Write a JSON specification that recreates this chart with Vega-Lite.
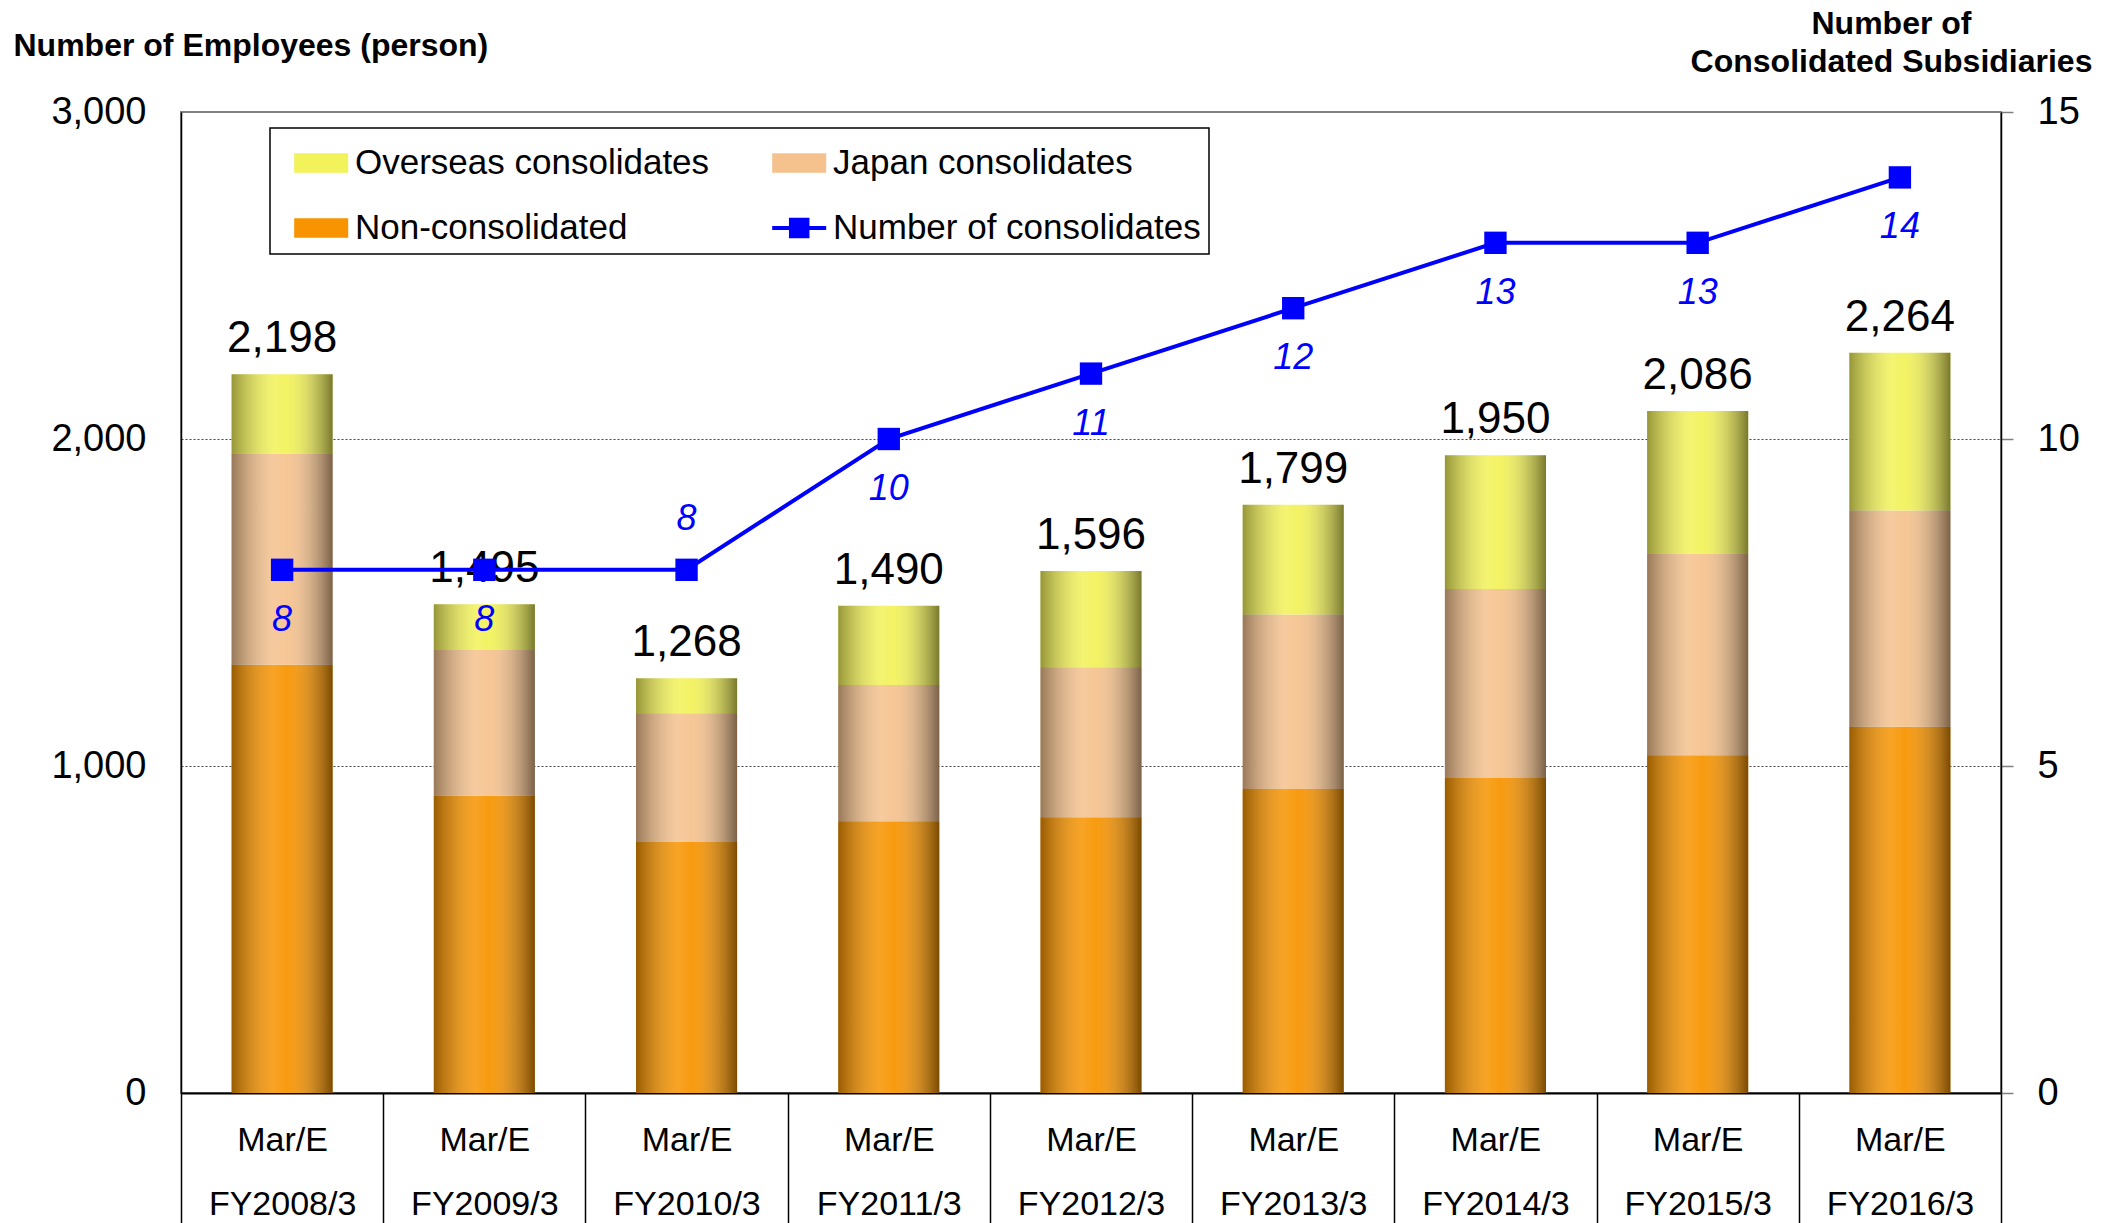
{
  "$schema": "https://vega.github.io/schema/vega-lite/v6.json",
  "width": 1820,
  "height": 981,
  "autosize": "none",
  "padding": {"left": 181, "top": 112, "right": 117, "bottom": 130},
  "background": "white",
  "config": {
    "view": {"stroke": "#808080", "strokeWidth": 2},
    "font": "Liberation Sans",
    "text": {"font": "Liberation Sans"}
  },
  "datasets": {
    "emp": [
      {"year": "FY2008/3", "series": "Non-consolidated", "k": 0, "value": 1310},
      {"year": "FY2008/3", "series": "Japan consolidates", "k": 1, "value": 645},
      {"year": "FY2008/3", "series": "Overseas consolidates", "k": 2, "value": 243},
      {"year": "FY2009/3", "series": "Non-consolidated", "k": 0, "value": 909},
      {"year": "FY2009/3", "series": "Japan consolidates", "k": 1, "value": 446},
      {"year": "FY2009/3", "series": "Overseas consolidates", "k": 2, "value": 140},
      {"year": "FY2010/3", "series": "Non-consolidated", "k": 0, "value": 769},
      {"year": "FY2010/3", "series": "Japan consolidates", "k": 1, "value": 392},
      {"year": "FY2010/3", "series": "Overseas consolidates", "k": 2, "value": 107},
      {"year": "FY2011/3", "series": "Non-consolidated", "k": 0, "value": 831},
      {"year": "FY2011/3", "series": "Japan consolidates", "k": 1, "value": 417},
      {"year": "FY2011/3", "series": "Overseas consolidates", "k": 2, "value": 242},
      {"year": "FY2012/3", "series": "Non-consolidated", "k": 0, "value": 843},
      {"year": "FY2012/3", "series": "Japan consolidates", "k": 1, "value": 459},
      {"year": "FY2012/3", "series": "Overseas consolidates", "k": 2, "value": 294},
      {"year": "FY2013/3", "series": "Non-consolidated", "k": 0, "value": 930},
      {"year": "FY2013/3", "series": "Japan consolidates", "k": 1, "value": 533},
      {"year": "FY2013/3", "series": "Overseas consolidates", "k": 2, "value": 336},
      {"year": "FY2014/3", "series": "Non-consolidated", "k": 0, "value": 963},
      {"year": "FY2014/3", "series": "Japan consolidates", "k": 1, "value": 578},
      {"year": "FY2014/3", "series": "Overseas consolidates", "k": 2, "value": 409},
      {"year": "FY2015/3", "series": "Non-consolidated", "k": 0, "value": 1033},
      {"year": "FY2015/3", "series": "Japan consolidates", "k": 1, "value": 616},
      {"year": "FY2015/3", "series": "Overseas consolidates", "k": 2, "value": 437},
      {"year": "FY2016/3", "series": "Non-consolidated", "k": 0, "value": 1120},
      {"year": "FY2016/3", "series": "Japan consolidates", "k": 1, "value": 661},
      {"year": "FY2016/3", "series": "Overseas consolidates", "k": 2, "value": 483}
    ],
    "tot": [
      {"year": "FY2008/3", "total": 2198, "subs": 8},
      {"year": "FY2009/3", "total": 1495, "subs": 8},
      {"year": "FY2010/3", "total": 1268, "subs": 8},
      {"year": "FY2011/3", "total": 1490, "subs": 10},
      {"year": "FY2012/3", "total": 1596, "subs": 11},
      {"year": "FY2013/3", "total": 1799, "subs": 12},
      {"year": "FY2014/3", "total": 1950, "subs": 13},
      {"year": "FY2015/3", "total": 2086, "subs": 13},
      {"year": "FY2016/3", "total": 2264, "subs": 14}
    ]
  },
  "layer": [
    {
      "layer": [
        {
          "data": {"name": "emp"},
          "mark": {"type": "bar", "width": {"band": 0.5}},
          "encoding": {
            "x": {
              "field": "year", "type": "nominal", "sort": null,
              "scale": {"paddingInner": 0, "paddingOuter": 0},
              "axis": {
                "title": null, "domainColor": "black", "domainWidth": 2,
                "tickBand": "extent", "tickSize": 130, "tickColor": "black", "tickWidth": 1.5,
                "labelExpr": "datum.value ? ['Mar/E', datum.value] : ''", "labelFontSize": 34, "labelColor": "black",
                "labelLineHeight": 64, "labelPadding": -100, "labelAngle": 0, "labelBaseline": "top"
              }
            },
            "y": {
              "field": "value", "type": "quantitative", "stack": "zero",
              "title": "Number of Employees (person)",
              "scale": {"domain": [0, 3000], "nice": false},
              "axis": {
                "orient": "left", "values": [0, 1000, 2000, 3000], "format": ",d",
                "labelFontSize": 38, "labelColor": "black", "labelPadding": 35, "ticks": false,
                "domainColor": "black", "domainWidth": 1.5,
                "grid": true, "gridColor": "#444444", "gridDash": [2, 2], "gridWidth": 1.2,
                "gridOpacity": {"condition": {"test": "datum.value === 0 || datum.value === 3000", "value": 0}, "value": 1},
                "titleAngle": 0, "titleAlign": "left", "titleBaseline": "middle",
                "titleX": -168, "titleY": -67, "titleFontSize": 32, "titleFontWeight": "bold", "titleColor": "black"
              }
            },
            "color": {
              "field": "series", "type": "nominal",
              "scale": {
                "domain": ["Overseas consolidates", "Non-consolidated", "Japan consolidates", "Number of consolidates"],
                "range": ["#f2f25a", "#f79400", "#f5c28e", "#0000ff"]
              },
              "legend": {
                "orient": "none", "legendX": 89, "legendY": 16, "columns": 2, "title": null,
                "labelFontSize": 35, "labelColor": "black", "labelLimit": 600,
                "symbolSize": 2916, "labelOffset": 23, "columnPadding": 46, "rowPadding": 20,
                "padding": 8, "strokeColor": "black", "fillColor": "white",
                "encode": {
                  "legend": {"update": {"strokeWidth": {"value": 1.5}}},
                  "symbols": {
                    "update": {
                      "shape": {"signal": "datum.value === 'Number of consolidates' ? 'M-0.4,-0.075H1.6V0.075H-0.4Z M0.22,-0.38H0.98V0.38H0.22Z' : 'M-0.4,-0.36H1.6V0.36H-0.4Z'"},
                      "fill": {"signal": "datum.value === 'Overseas consolidates' ? {gradient: 'linear', stops: [{offset: 0, color: '#9a9a2a'}, {offset: 0.5, color: '#ffff66'}, {offset: 1, color: '#7a7a14'}]} : datum.value === 'Japan consolidates' ? {gradient: 'linear', stops: [{offset: 0, color: '#a8845c'}, {offset: 0.5, color: '#ffcc99'}, {offset: 1, color: '#8a6a48'}]} : datum.value === 'Non-consolidated' ? {gradient: 'linear', stops: [{offset: 0, color: '#a86200'}, {offset: 0.5, color: '#ff9900'}, {offset: 1, color: '#8a5000'}]} : '#0000ff'"},
                      "stroke": {"value": "transparent"},
                      "strokeWidth": {"value": 0},
                      "opacity": {"value": 1}
                    }
                  }
                }
              }
            },
            "order": {"field": "k", "type": "quantitative"}
          }
        },
        {
          "data": {"name": "tot"},
          "mark": {
            "type": "bar",
            "width": {"band": 0.5},
            "fill": {
              "gradient": "linear", "x1": 0, "x2": 1, "y1": 0, "y2": 0,
              "stops": [
                {"offset": 0, "color": "rgba(0,0,0,0.38)"},
                {"offset": 0.42, "color": "rgba(255,255,255,0.14)"},
                {"offset": 0.55, "color": "rgba(255,255,255,0.06)"},
                {"offset": 1, "color": "rgba(0,0,0,0.5)"}
              ]
            }
          },
          "encoding": {
            "x": {"field": "year", "type": "nominal", "sort": null},
            "y": {"field": "total", "type": "quantitative", "title": "Number of Employees (person)"}
          }
        },
        {
          "data": {"name": "tot"},
          "mark": {"type": "text", "baseline": "alphabetic", "align": "center", "dy": -22, "fontSize": 44, "color": "black"},
          "encoding": {
            "x": {"field": "year", "type": "nominal", "sort": null},
            "y": {"field": "total", "type": "quantitative", "title": "Number of Employees (person)"},
            "text": {"field": "total", "type": "quantitative", "format": ","}
          }
        }
      ]
    },
    {
      "layer": [
        {
          "data": {"name": "tot"},
          "mark": {"type": "line", "strokeWidth": 4, "point": {"shape": "square", "filled": true, "size": 500}},
          "encoding": {
            "x": {"field": "year", "type": "nominal", "sort": null},
            "y": {
              "field": "subs", "type": "quantitative",
              "title": ["Number of", "Consolidated Subsidiaries"],
              "scale": {"domain": [0, 15], "nice": false},
              "axis": {
                "orient": "right", "values": [0, 5, 10, 15], "format": "d",
                "labelFontSize": 38, "labelColor": "black", "labelPadding": 24,
                "tickSize": 12, "tickColor": "#808080", "tickWidth": 1.5,
                "domainColor": "black", "domainWidth": 1.5, "grid": false,
                "titleAngle": 0, "titleAlign": "center", "titleBaseline": "middle",
                "titleX": -110, "titleY": -89, "titleFontSize": 32, "titleFontWeight": "bold",
                "titleColor": "black", "titleLineHeight": 38
              }
            },
            "color": {"datum": "Number of consolidates"}
          }
        },
        {
          "data": {"name": "tot"},
          "transform": [{"filter": "datum.year !== 'FY2010/3'"}],
          "mark": {"type": "text", "baseline": "middle", "align": "center", "dy": 50, "fontSize": 36, "fontStyle": "italic", "color": "#0000ff"},
          "encoding": {
            "x": {"field": "year", "type": "nominal", "sort": null},
            "y": {"field": "subs", "type": "quantitative", "title": ["Number of", "Consolidated Subsidiaries"]},
            "text": {"field": "subs", "type": "quantitative"}
          }
        },
        {
          "data": {"name": "tot"},
          "transform": [{"filter": "datum.year === 'FY2010/3'"}],
          "mark": {"type": "text", "baseline": "middle", "align": "center", "dy": -51, "fontSize": 36, "fontStyle": "italic", "color": "#0000ff"},
          "encoding": {
            "x": {"field": "year", "type": "nominal", "sort": null},
            "y": {"field": "subs", "type": "quantitative", "title": ["Number of", "Consolidated Subsidiaries"]},
            "text": {"field": "subs", "type": "quantitative"}
          }
        }
      ]
    }
  ],
  "resolve": {"scale": {"y": "independent"}}
}
